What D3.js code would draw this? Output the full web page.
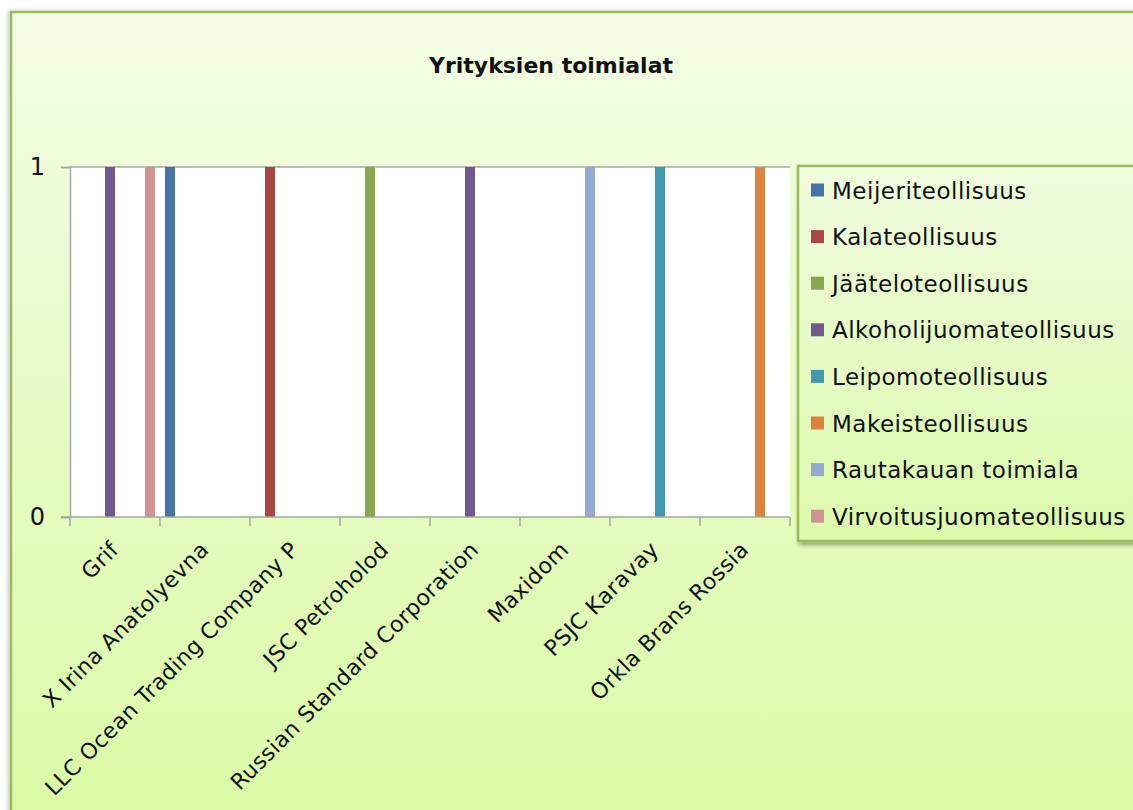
<!DOCTYPE html>
<html>
<head>
<meta charset="utf-8">
<script src="https://cdn.jsdelivr.net/npm/d3@7"></script>
<style>
html,body{margin:0;padding:0;background:#fff;overflow:hidden;}
svg{display:block;}
text{font-family:"DejaVu Sans",sans-serif;fill:#111;}
</style>
</head>
<body>
<svg id="chart" width="1133" height="810"></svg>
<script>
const title = "Yrityksien toimialat";
const categories = ["Grif","X Irina Anatolyevna","LLC Ocean Trading Company P","JSC Petroholod","Russian Standard Corporation","Maxidom","PSJC Karavay","Orkla Brans Rossia"];
const seriesNames = ["Meijeriteollisuus","Kalateollisuus","Jääteloteollisuus","Alkoholijuomateollisuus","Leipomoteollisuus","Makeisteollisuus","Rautakauan toimiala","Virvoitusjuomateollisuus"];
const seriesColors = ["#4572a7","#aa4643","#89a54e","#71588f","#4198af","#db843d","#93a9cf","#d19392"];
// values per series, one entry per category (null = no value)
const meijeri   = [null, 1, null, null, null, null, null, null];
const kala      = [null, null, 1, null, null, null, null, null];
const jaatelo   = [null, null, null, 1, null, null, null, null];
const alkoholi  = [1, null, null, null, 1, null, null, null];
const leipomo   = [null, null, null, null, null, null, 1, null];
const makeis    = [null, null, null, null, null, null, null, 1];
const rautakauppa = [null, null, null, null, null, 1, null, null];
const virvoitus = [1, null, null, null, null, null, null, null];
const yTicks = [0, 1];

const seriesValues = [meijeri, kala, jaatelo, alkoholi, leipomo, makeis, rautakauppa, virvoitus];

const svg = d3.select("#chart");
const defs = svg.append("defs");
const bg = defs.append("linearGradient").attr("id","bg").attr("x1",0).attr("y1",0).attr("x2",0).attr("y2",1);
bg.append("stop").attr("offset","0%").attr("stop-color","#f3fde5");
bg.append("stop").attr("offset","100%").attr("stop-color","#dafaa4");
const lg = defs.append("linearGradient").attr("id","lg").attr("x1",0).attr("y1",0).attr("x2",0).attr("y2",1);
lg.append("stop").attr("offset","0%").attr("stop-color","#f0fcdf");
lg.append("stop").attr("offset","100%").attr("stop-color","#dcfaab");
const sh = defs.append("filter").attr("id","sh").attr("x","-10%").attr("y","-10%").attr("width","130%").attr("height","130%");
sh.append("feDropShadow").attr("dx",2).attr("dy",3).attr("stdDeviation",2).attr("flood-color","#000").attr("flood-opacity",0.35);
const sh2 = defs.append("filter").attr("id","sh2").attr("x","-5%").attr("y","-5%").attr("width","110%").attr("height","110%");
sh2.append("feDropShadow").attr("dx",-2).attr("dy",0).attr("stdDeviation",2).attr("flood-color","#000").attr("flood-opacity",0.2);

// chart area background
svg.append("rect").attr("x",11).attr("y",12).attr("width",1140).attr("height",820)
  .attr("fill","url(#bg)").attr("stroke","#9bbb59").attr("stroke-width",2.5).attr("filter","url(#sh2)");

// title
svg.append("text").attr("x",551).attr("y",73).attr("text-anchor","middle")
  .attr("font-size",22).attr("font-weight","bold").text(title);

const plot = {left:70, right:790, top:167, bottom:517};
const x0 = d3.scaleBand().domain(categories).range([plot.left, plot.right]).paddingInner(0).paddingOuter(0);
const x1 = d3.scaleBand().domain(seriesNames).range([0, x0.bandwidth()]).paddingInner(0).paddingOuter(0.5);
const y = d3.scaleLinear().domain([0, 1]).range([plot.bottom, plot.top]);

// plot area
svg.append("rect").attr("x",plot.left).attr("y",plot.top).attr("width",plot.right-plot.left).attr("height",plot.bottom-plot.top).attr("fill","#fff");

// gridline at 1
svg.append("g").selectAll("line").data(yTicks.filter(d=>d>0)).join("line")
  .attr("x1",plot.left).attr("x2",plot.right).attr("y1",d=>y(d)).attr("y2",d=>y(d))
  .attr("stroke","#a6a6a6").attr("stroke-width",1.5);

// bars
const barData = [];
seriesValues.forEach((vals, si) => vals.forEach((v, ci) => { if (v != null) barData.push({s: seriesNames[si], c: categories[ci], v, color: seriesColors[si]}); }));
svg.append("g").selectAll("rect").data(barData).join("rect")
  .attr("x", d => x0(d.c) + x1(d.s))
  .attr("width", x1.bandwidth())
  .attr("y", d => y(d.v))
  .attr("height", d => y(0) - y(d.v))
  .attr("fill", d => d.color);

// y axis
const yAxis = svg.append("g").attr("transform",`translate(${plot.left},0)`)
  .call(d3.axisLeft(y).tickValues(yTicks).tickFormat(d3.format("d")).tickSize(9).tickPadding(16));
yAxis.select(".domain").attr("stroke","#a6a6a6").attr("stroke-width",1.5);
yAxis.selectAll(".tick line").attr("stroke","#a6a6a6").attr("stroke-width",1.5);
yAxis.selectAll(".tick text").attr("font-size",24).attr("fill","#111");

// x axis with ticks at category boundaries
const xAxisG = svg.append("g");
xAxisG.append("line").attr("x1",plot.left-9).attr("x2",plot.right).attr("y1",plot.bottom).attr("y2",plot.bottom)
  .attr("stroke","#a6a6a6").attr("stroke-width",1.5);
const bounds = categories.map(c => x0(c)).concat([x0(categories[categories.length-1]) + x0.bandwidth()]);
xAxisG.selectAll("line.tk").data(bounds).join("line").attr("class","tk")
  .attr("x1",d=>d).attr("x2",d=>d).attr("y1",plot.bottom).attr("y2",plot.bottom+9)
  .attr("stroke","#a6a6a6").attr("stroke-width",1.5);
xAxisG.selectAll("text").data(categories).join("text")
  .attr("transform", d => `translate(${x0(d)+x0.bandwidth()/2+5},${plot.bottom+34}) rotate(-45)`)
  .attr("text-anchor","end").attr("font-size",22).attr("letter-spacing",0.4).text(d=>d);

// legend
const legX = 798, legY = 166;
svg.append("rect").attr("x",legX).attr("y",legY).attr("width",360).attr("height",375)
  .attr("fill","url(#lg)").attr("stroke","#9bbb59").attr("stroke-width",2.5).attr("filter","url(#sh)");
const leg = svg.append("g").selectAll("g").data(seriesNames).join("g")
  .attr("transform",(d,i)=>`translate(${legX+13},${190 + i*46.6})`);
leg.append("rect").attr("x",0).attr("y",-6.5).attr("width",13).attr("height",13).attr("fill",(d,i)=>seriesColors[i]);
leg.append("text").attr("x",21).attr("y",8.5).attr("font-size",23).attr("letter-spacing",0.5).text(d=>d);
</script>
</body>
</html>
